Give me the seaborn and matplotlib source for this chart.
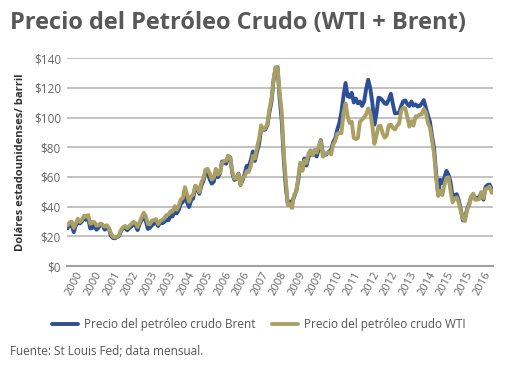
import pandas as pd
import matplotlib
matplotlib.use("Agg")
import matplotlib.pyplot as plt
import seaborn as sns

# monthly averages, Jan 2000 - Mar 2017 (St Louis Fed)
brent = [
    25.5, 27.8, 27.5, 22.8, 27.4, 29.8, 28.7, 30.1, 32.9, 31.1, 32.6, 25.3,
    25.6, 27.5, 24.5, 25.7, 28.4, 27.7, 24.5, 25.7, 25.6, 20.5, 18.9, 18.7,
    19.4, 20.3, 23.7, 25.7, 25.4, 24.1, 25.7, 26.6, 28.3, 27.5, 24.2, 28.3,
    31.2, 32.8, 30.3, 25.0, 25.8, 27.6, 28.4, 29.8, 27.0, 29.5, 28.8, 29.8,
    31.2, 30.9, 33.8, 33.4, 37.6, 35.5, 37.9, 42.1, 43.1, 49.8, 43.1, 39.7,
    44.3, 45.5, 53.1, 51.9, 48.7, 54.3, 57.5, 64.1, 62.9, 58.5, 55.5, 56.8,
    63.6, 59.9, 62.3, 70.4, 70.0, 68.9, 73.7, 73.2, 62.5, 58.0, 58.8, 62.2,
    54.6, 57.8, 62.1, 67.5, 67.2, 71.3, 77.2, 70.8, 77.1, 82.3, 92.5, 91.5,
    92.0, 94.8, 103.3, 110.4, 124.6, 133.5, 133.9, 113.0, 98.1, 72.0, 53.0, 41.3,
    43.4, 43.0, 46.5, 50.2, 57.3, 68.6, 64.4, 72.5, 67.7, 73.2, 77.0, 74.7,
    76.2, 73.8, 78.8, 84.8, 75.9, 74.8, 75.6, 77.1, 78.2, 83.5, 86.1, 92.0,
    96.5, 103.7, 114.6, 123.3, 114.5, 113.9, 116.7, 110.2, 112.8, 109.6, 110.8, 107.9,
    110.7, 119.3, 125.5, 119.8, 110.3, 95.2, 102.6, 113.4, 113.0, 111.5, 109.5, 109.2,
    112.3, 116.1, 109.0, 102.9, 103.0, 103.1, 107.7, 111.0, 111.6, 109.1, 107.8, 110.8,
    108.1, 108.9, 107.5, 107.8, 109.5, 111.8, 106.8, 101.6, 97.1, 87.4, 79.4, 62.3,
    47.8, 58.1, 55.9, 59.5, 64.1, 61.5, 56.6, 46.5, 47.6, 48.4, 44.3, 38.0,
    30.7, 32.2, 38.2, 41.6, 46.7, 48.3, 44.9, 45.8, 46.6, 49.5, 44.7, 53.3,
    54.6, 54.9, 51.6,
]
wti = [
    27.3, 29.4, 29.9, 25.7, 28.8, 31.8, 29.7, 31.3, 33.9, 33.1, 34.4, 28.5,
    29.6, 29.6, 27.2, 27.4, 28.6, 27.6, 26.5, 27.5, 25.9, 22.2, 19.7, 19.3,
    19.7, 20.7, 24.4, 26.2, 27.0, 25.5, 26.9, 28.4, 29.7, 28.9, 26.3, 29.4,
    32.9, 35.9, 33.6, 28.3, 28.1, 30.7, 30.8, 31.6, 28.3, 30.3, 31.1, 32.2,
    34.3, 34.7, 36.8, 36.7, 40.3, 38.0, 40.7, 44.9, 45.9, 53.1, 48.5, 43.3,
    46.8, 48.1, 54.2, 53.0, 49.8, 56.4, 59.0, 64.9, 65.5, 62.4, 58.3, 59.4,
    65.5, 61.6, 62.7, 69.4, 70.8, 70.9, 74.4, 73.0, 63.8, 58.9, 59.1, 62.0,
    54.5, 59.3, 60.4, 63.9, 63.4, 67.5, 74.1, 72.4, 79.9, 85.8, 94.8, 91.7,
    92.9, 95.4, 105.5, 112.6, 125.4, 133.9, 133.4, 116.7, 104.1, 76.6, 57.3, 41.1,
    41.7, 39.1, 47.9, 49.7, 59.0, 69.6, 64.2, 71.1, 69.4, 75.7, 78.0, 74.5,
    78.3, 76.4, 81.2, 84.3, 73.7, 75.3, 76.3, 76.6, 75.2, 81.9, 84.3, 89.2,
    89.6, 89.6, 102.9, 109.5, 100.9, 96.3, 97.3, 86.3, 85.5, 86.3, 97.2, 98.6,
    100.3, 102.2, 106.2, 103.3, 94.7, 82.3, 87.9, 94.1, 94.5, 89.5, 86.5, 87.9,
    94.8, 95.3, 92.9, 92.0, 94.5, 95.8, 104.6, 106.6, 106.3, 100.5, 93.9, 97.6,
    94.6, 100.8, 100.8, 102.1, 102.2, 105.8, 103.6, 96.5, 93.2, 84.4, 75.8, 59.3,
    47.2, 50.6, 47.8, 54.5, 59.3, 59.8, 50.9, 42.9, 45.5, 46.2, 42.4, 37.2,
    31.7, 30.3, 37.5, 40.8, 46.7, 48.8, 44.7, 44.7, 45.2, 49.8, 45.7, 52.0,
    52.5, 53.5, 49.3,
]
months = pd.date_range("2000-01-01", periods=len(brent), freq="MS")

series_names = ["Precio del petróleo crudo Brent", "Precio del petróleo crudo WTI"]
colors = {series_names[0]: "#2d4f98", series_names[1]: "#aaa064"}

df = pd.DataFrame({
    "idx": list(range(len(months))) * 2,
    "precio": brent + wti,
    "serie": [series_names[0]] * len(brent) + [series_names[1]] * len(wti),
})

sns.set_style("white")
plt.rcParams["font.family"] = ["Open Sans", "DejaVu Sans"]

fig = plt.figure(figsize=(5.08, 3.71), dpi=100)
ax = fig.add_axes([0.131, 0.283, 0.839, 0.560])

sns.lineplot(data=df, x="idx", y="precio", hue="serie", hue_order=series_names,
             palette=colors, linewidth=2.8, ax=ax)

ax.set_xlim(-0.5, len(months) - 0.5)
ax.set_ylim(0, 140)
ax.set_yticks(range(0, 141, 20))
ax.set_yticklabels([f"${v}" for v in range(0, 141, 20)], color="#666666", fontsize=8.5)
ax.yaxis.grid(True, color="#bdbdbd", linewidth=1.3)
ax.set_axisbelow(True)
for side in ["top", "right", "left"]:
    ax.spines[side].set_visible(False)
ax.spines["bottom"].set_color("#a0a0a0")
ax.spines["bottom"].set_linewidth(1.5)
ax.tick_params(axis="y", length=0, pad=4)

# labels every 9 months, tick marks between the groups (Excel style)
step = 9
label_pos = [i + step / 2 - 0.5 for i in range(0, len(months), step)]
label_txt = [str(months[i].year) for i in range(0, len(months), step)]
ax.set_xticks(label_pos)
ax.set_xticklabels(label_txt, rotation=62, ha="right", rotation_mode="anchor",
                   color="#666666", fontsize=8)
ax.tick_params(axis="x", which="major", length=0, pad=3)
ax.set_xticks([i - 0.5 for i in range(0, len(months) + 1, step)], minor=True)
ax.tick_params(axis="x", which="minor", length=3, width=1, color="#a0a0a0", direction="out")

ax.set_xlabel("")
ax.set_ylabel("Doláres estadounidenses/ barril", fontsize=8, fontweight="bold",
              color="#333333", labelpad=6)

handles, labels = ax.get_legend_handles_labels()
ax.legend(handles, labels, loc="center", bbox_to_anchor=(0.51, 0.124),
          bbox_transform=fig.transFigure, ncol=2, frameon=False, fontsize=8.5,
          labelcolor="#555555", handlelength=2.2, columnspacing=1.4, handletextpad=0.5)

fig.text(10 / 508, 0.938, "Precio del Petróleo Crudo (WTI + Brent)", fontsize=17,
         fontweight="bold", color="#585858", va="center", ha="left")
fig.text(10 / 508, 0.052, "Fuente: St Louis Fed; data mensual.", fontsize=8.5,
         color="#555555", va="center", ha="left")

fig.savefig("out.png", dpi=100)
